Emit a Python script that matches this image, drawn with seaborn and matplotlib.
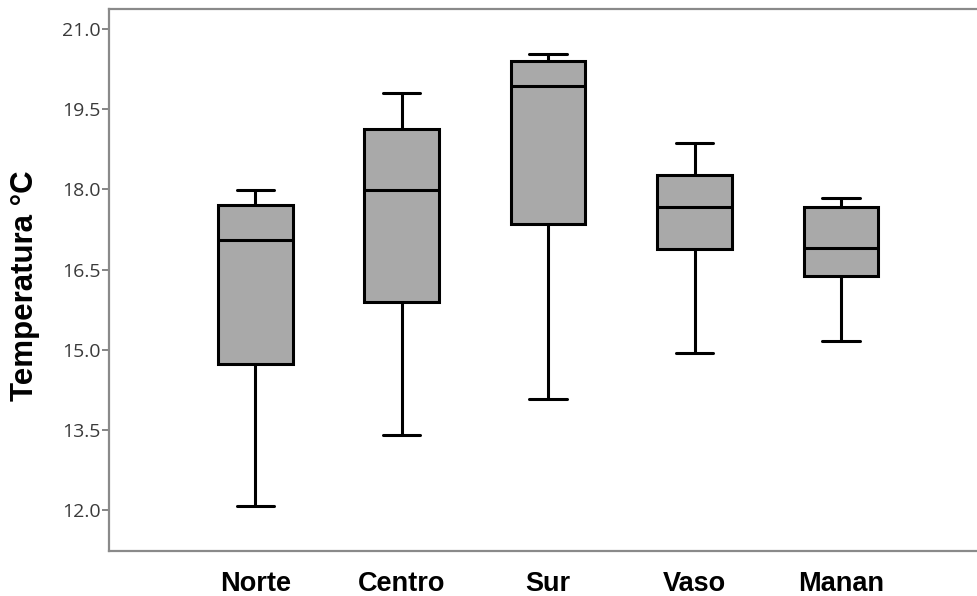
import numpy as np
import pandas as pd
import matplotlib
matplotlib.use("Agg")
import matplotlib.pyplot as plt
import seaborn as sns

# ---- data (five-number summaries) ----
categories = ["Norte", "Centro", "Sur", "Vaso", "Manan"]
norte = [12.07, 14.74, 17.05, 17.70, 17.99]
centro = [13.41, 15.90, 17.99, 19.14, 19.80]
sur = [14.08, 17.36, 19.93, 20.41, 20.54]
vaso = [14.93, 16.89, 17.67, 18.27, 18.87]
manan = [15.17, 16.38, 16.91, 17.68, 17.84]
y_ticks = [12.0, 13.5, 15.0, 16.5, 18.0, 19.5, 21.0]
y_label = "Temperatura °C"

df = pd.DataFrame({
    "zona": np.repeat(categories, 5),
    "temp": norte + centro + sur + vaso + manan,
})

sns.set_theme(style="white")
plt.rcParams["font.family"] = ["Liberation Sans", "DejaVu Sans"]

fig = plt.figure(figsize=(9.77, 5.96), dpi=100)
ax = fig.add_axes([0.1116, 0.0755, 0.8884, 0.9095])

sns.boxplot(
    data=df, x="zona", y="temp", order=categories, ax=ax,
    color="#a9a9a9", saturation=1, width=0.51, whis=np.inf,
    linecolor="black", linewidth=2.2, fliersize=0,
)

ax.set_xlim(-1.0, 4.93)
ax.set_ylim(11.23, 21.38)
ax.set_yticks(y_ticks)
ax.set_yticklabels([f"{v:.1f}" for v in y_ticks], fontfamily="Open Sans",
                   fontsize=14, color="#3a3a3a")
ax.set_xlabel("")
ax.set_ylabel(y_label, fontsize=22.5, fontweight="bold", color="black")
ax.yaxis.set_label_coords(-0.08, 0.49)
for lab in ax.get_xticklabels():
    lab.set_fontsize(19.5)
    lab.set_fontweight("bold")
    lab.set_color("black")

ax.tick_params(axis="y", left=True, length=5, width=1.2, color="#6f6f6f", pad=1)
ax.tick_params(axis="x", bottom=False, length=0, pad=14.5)

for side in ["left", "top", "bottom"]:
    ax.spines[side].set_color("#8a8a8a")
    ax.spines[side].set_linewidth(1.6)
ax.spines["right"].set_visible(False)

fig.savefig("out.png", dpi=100)
